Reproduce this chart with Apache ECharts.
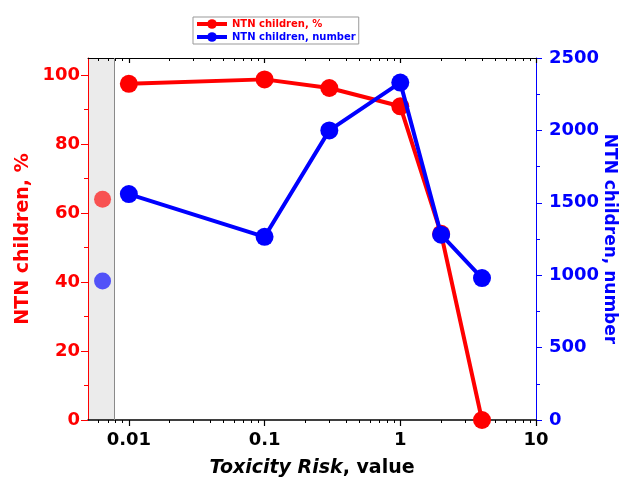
<!DOCTYPE html>
<html>
<head>
<meta charset="utf-8">
<script src="https://cdn.jsdelivr.net/npm/echarts@6/dist/echarts.min.js"></script>
<style>
  html, body { margin: 0; padding: 0; background: #fff; }
  #chart { width: 621px; height: 478px; }
</style>
</head>
<body>
<div id="chart"></div>
<script>
  // data
  const riskValues = [0.01, 0.1, 0.3, 1, 2, 4];
  const percentValues = [97.5, 98.8, 96.3, 91, 54, 0];
  const numberValues = [1560, 1265, 2000, 2330, 1280, 980];
  const shadeRange = [0.005, 0.0078];
  const fadedRisk = 0.0064;
  const fadedPercent = 64;
  const fadedNumber = 960;
  const xTickLabels = [0.01, 0.1, 1, 10];
  const xMinorTicks = [0.006, 0.007, 0.008, 0.009, 0.02, 0.03, 0.04, 0.05, 0.06, 0.07, 0.08, 0.09,
    0.2, 0.3, 0.4, 0.5, 0.6, 0.7, 0.8, 0.9, 2, 3, 4, 5, 6, 7, 8, 9];
  const leftTicks = [0, 20, 40, 60, 80, 100];
  const leftMinor = [10, 30, 50, 70, 90];
  const rightTicks = [0, 500, 1000, 1500, 2000, 2500];
  const rightMinor = [250, 750, 1250, 1750, 2250];

  const RED = '#ff0000';
  const BLUE = '#0000ff';
  const FONT = 'DejaVu Sans';
  const lg = v => Math.log10(v);
  const xMin = lg(shadeRange[0]);
  const xMax = lg(10);

  let chart = echarts.init(document.getElementById('chart'));

  const baseX = {
    type: 'value', min: xMin, max: xMax, splitLine: {show: false},
    axisLabel: {show: false}, axisLine: {show: false, onZero: false}
  };
  const baseY = {
    type: 'value', splitLine: {show: false}, axisLabel: {show: false},
    axisLine: {show: false, onZero: false}
  };

  chart.setOption({
    animation: false,
    grid: {left: 88, right: 85, top: 58, bottom: 58, containLabel: false, outerBoundsMode: 'none'},
    legend: {
      left: 193, top: 17, orient: 'vertical',
      backgroundColor: '#fff', borderColor: '#999', borderWidth: 1,
      padding: [2, 3, 2, 2], itemGap: 3, itemWidth: 30, itemHeight: 12,
      lineStyle: {width: 4},
      textStyle: {fontFamily: FONT, fontWeight: 'bold', fontSize: 10},
      data: [
        {name: 'NTN children, %', textStyle: {color: RED}},
        {name: 'NTN children, number', textStyle: {color: BLUE}}
      ]
    },
    xAxis: [
      {
        ...baseX, position: 'bottom',
        axisLine: {show: true, onZero: false, lineStyle: {color: '#000', width: 1.5}},
        axisTick: {customValues: xTickLabels.map(lg), length: 6, lineStyle: {color: '#000', width: 1.2}},
        axisLabel: {
          customValues: xTickLabels.map(lg), margin: 11,
          formatter: v => String(parseFloat(Math.pow(10, v).toPrecision(6))),
          color: '#000', fontFamily: FONT, fontWeight: 'bold', fontSize: 18
        },
        name: '{i|Toxicity Risk}{n|, value}', nameLocation: 'middle', nameGap: 39,
        nameTextStyle: {
          rich: {
            i: {fontFamily: FONT, fontWeight: 'bold', fontStyle: 'italic', fontSize: 19, color: '#000'},
            n: {fontFamily: FONT, fontWeight: 'bold', fontSize: 19, color: '#000'}
          }
        }
      },
      {
        ...baseX, position: 'bottom',
        axisTick: {customValues: xMinorTicks.map(lg), length: 3, lineStyle: {color: '#000'}}
      },
      {
        ...baseX, position: 'top',
        axisLine: {show: true, onZero: false, lineStyle: {color: '#000', width: 1}},
        axisTick: {inside: true, customValues: xTickLabels.map(lg), length: 5, lineStyle: {color: '#000', width: 1.2}}
      },
      {
        ...baseX, position: 'top',
        axisTick: {inside: true, customValues: xMinorTicks.map(lg), length: 3, lineStyle: {color: '#000'}}
      }
    ],
    yAxis: [
      {
        ...baseY, position: 'left', min: 0, max: 105,
        axisLine: {show: true, onZero: false, lineStyle: {color: RED, width: 1}},
        axisTick: {customValues: leftTicks, length: 7, lineStyle: {color: RED}},
        axisLabel: {
          show: true, customValues: leftTicks, margin: 8, color: RED,
          fontFamily: FONT, fontWeight: 'bold', fontSize: 18
        },
        name: 'NTN children, %', nameLocation: 'middle', nameGap: 55, nameMoveOverlap: false,
        nameTextStyle: {color: RED, fontFamily: FONT, fontWeight: 'bold', fontSize: 19}
      },
      {
        ...baseY, position: 'left', min: 0, max: 105,
        axisTick: {customValues: leftMinor, length: 4, lineStyle: {color: RED}}
      },
      {
        ...baseY, position: 'right', min: 0, max: 2500,
        axisLine: {show: true, onZero: false, lineStyle: {color: BLUE, width: 1}},
        axisTick: {customValues: rightTicks, length: 6, lineStyle: {color: BLUE}},
        axisLabel: {
          show: true, customValues: rightTicks, margin: 13, color: BLUE,
          formatter: v => String(v),
          fontFamily: FONT, fontWeight: 'bold', fontSize: 18
        },
        name: 'NTN children, number', nameLocation: 'middle', nameGap: 65, nameRotate: -90,
        nameMoveOverlap: false,
        nameTextStyle: {color: BLUE, fontFamily: FONT, fontWeight: 'bold', fontSize: 17}
      },
      {
        ...baseY, position: 'right', min: 0, max: 2500,
        axisTick: {customValues: rightMinor, length: 4, lineStyle: {color: BLUE}}
      }
    ],
    series: [
      {
        name: 'NTN children, %', type: 'line', xAxisIndex: 0, yAxisIndex: 0,
        data: riskValues.map((x, i) => [lg(x), percentValues[i]]),
        color: RED, symbol: 'circle', symbolSize: 18,
        lineStyle: {width: 4, color: RED}, itemStyle: {color: RED},
        markArea: {
          silent: true, z: -1,
          itemStyle: {color: '#ebebeb'},
          data: [[{xAxis: lg(shadeRange[0])}, {xAxis: lg(shadeRange[1])}]]
        },
        markLine: {
          silent: true, symbol: 'none', label: {show: false},
          lineStyle: {color: '#8a8a8a', width: 1, type: 'solid'},
          data: [{xAxis: lg(shadeRange[1])}]
        },
        z: 3
      },
      {
        name: 'NTN children, number', type: 'line', xAxisIndex: 0, yAxisIndex: 2,
        data: riskValues.map((x, i) => [lg(x), numberValues[i]]),
        color: BLUE, symbol: 'circle', symbolSize: 18,
        lineStyle: {width: 4, color: BLUE}, itemStyle: {color: BLUE},
        z: 4
      },
      {
        name: 'faded %', type: 'scatter', xAxisIndex: 0, yAxisIndex: 0,
        data: [[lg(fadedRisk), fadedPercent]], symbolSize: 17,
        itemStyle: {color: RED, opacity: 0.65}
      },
      {
        name: 'faded number', type: 'scatter', xAxisIndex: 0, yAxisIndex: 2,
        data: [[lg(fadedRisk), fadedNumber]], symbolSize: 17,
        itemStyle: {color: BLUE, opacity: 0.65}
      }
    ]
  });
</script>
</body>
</html>
